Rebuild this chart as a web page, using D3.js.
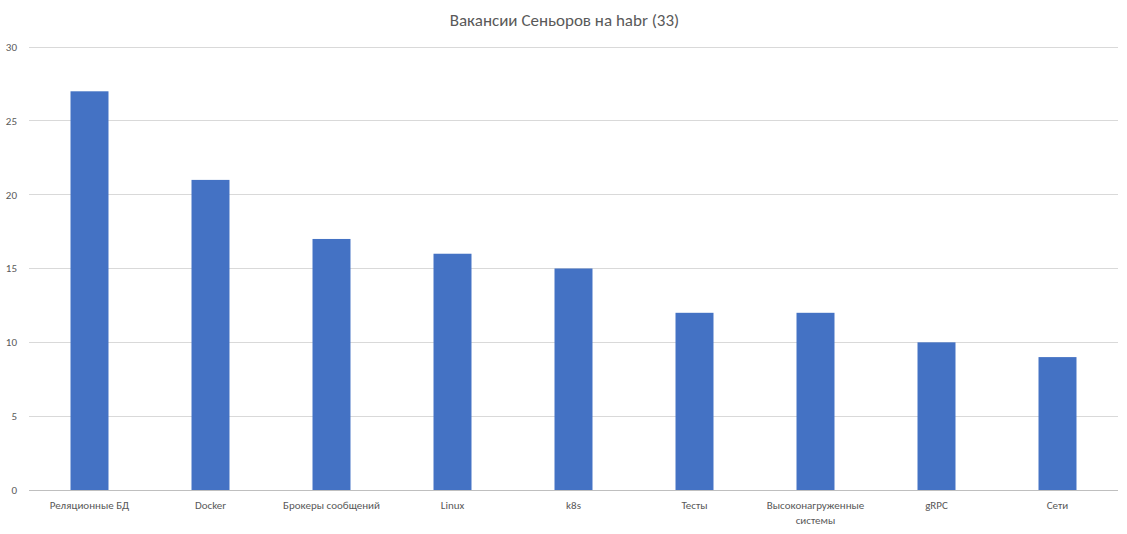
<!DOCTYPE html>
<html>
<head>
<meta charset="utf-8">
<script src="https://cdn.jsdelivr.net/npm/d3@7"></script>
<style>
body { margin: 0; background: #fff; }
text { font-family: Calibri, Carlito, "Liberation Sans", Arial, sans-serif; fill: #595959; }
</style>
</head>
<body>
<div id="chart"></div>
<script>
var categories = ["Реляционные БД", "Docker", "Брокеры сообщений", "Linux", "k8s", "Тесты", "Высоконагруженные системы", "gRPC", "Сети"];
var values = [27, 21, 17, 16, 15, 12, 12, 10, 9];
var yTicks = [0, 5, 10, 15, 20, 25, 30];

var width = 1127, height = 534;
var margin = {top: 47, right: 9, bottom: 44, left: 29};
var w = width - margin.left - margin.right,
    h = height - margin.top - margin.bottom;

var svg = d3.select("#chart").append("svg")
    .attr("width", width)
    .attr("height", height);

svg.append("text")
    .attr("x", width / 2 + 1)
    .attr("y", 26)
    .attr("text-anchor", "middle")
    .style("font-size", "17px")
    .text("Вакансии Сеньоров на habr (33)");

var g = svg.append("g")
    .attr("transform", "translate(" + margin.left + "," + margin.top + ")");

var x = d3.scaleBand()
    .domain(categories)
    .range([0, w])
    .paddingInner(0.686)
    .paddingOuter(0.343);

var y = d3.scaleLinear()
    .domain([0, 30])
    .range([h, 0]);

// gridlines
g.selectAll(".grid")
    .data(yTicks)
    .enter()
    .append("line")
    .attr("x1", 0)
    .attr("x2", w)
    .attr("y1", function (d) { return y(d); })
    .attr("y2", function (d) { return y(d); })
    .style("stroke", function (d) { return d === 0 ? "#bfbfbf" : "#d9d9d9"; })
    .style("stroke-width", 1)
    .attr("shape-rendering", "crispEdges");

// y labels
g.selectAll(".ylab")
    .data(yTicks)
    .enter()
    .append("text")
    .attr("x", -12)
    .attr("y", function (d) { return y(d); })
    .attr("dy", "0.35em")
    .attr("text-anchor", "end")
    .style("font-size", "11px")
    .text(function (d) { return d; });

// bars
g.selectAll(".bar")
    .data(values)
    .enter()
    .append("rect")
    .attr("x", function (d, i) { return x(categories[i]); })
    .attr("y", function (d) { return y(d); })
    .attr("width", x.bandwidth())
    .attr("height", function (d) { return h - y(d); })
    .style("fill", "#4472c4");

// x labels (wrap long ones)
categories.forEach(function (c) {
    var lines = c === "Высоконагруженные системы" ? ["Высоконагруженные", "системы"] : [c];
    var t = g.append("text")
        .attr("text-anchor", "middle")
        .style("font-size", "11px")
        .attr("transform", "translate(" + (x(c) + x.bandwidth() / 2) + "," + (h + 19) + ")");
    lines.forEach(function (l, i) {
        t.append("tspan").attr("x", 0).attr("dy", i === 0 ? 0 : "1.35em").text(l);
    });
});
</script>
</body>
</html>
